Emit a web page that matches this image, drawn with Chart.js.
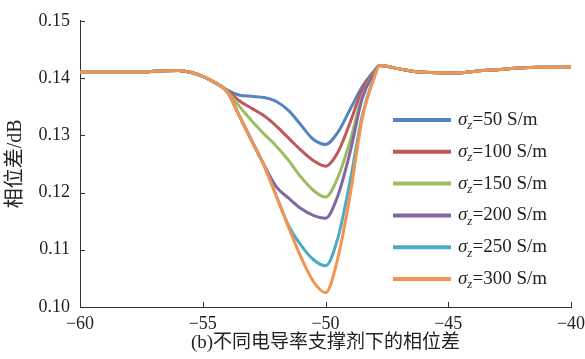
<!DOCTYPE html>
<html>
<head>
<meta charset="utf-8">
<script src="https://cdn.jsdelivr.net/npm/chart.js@4.4.1/dist/chart.umd.min.js"></script>
<style>
  html, body { margin: 0; padding: 0; background: #fff; }
  #wrap { width: 585px; height: 359px; }
</style>
</head>
<body>
<div id="wrap"><canvas id="phaseChart" width="585" height="359"></canvas></div>
<script>
// offset positions (x axis) shared by every curve
const offsets = [-60, -58, -57.5, -57, -56, -55.5, -55, -54.5, -54, -53.5, -53, -52.5, -52, -51.5, -51, -50.5, -50, -49.5, -49, -48.5, -48, -47.8, -47, -46, -44.6, -43.6, -42.6, -41.3, -40];

// proppant conductivity, S/m
const conductivities = [50, 100, 150, 200, 250, 300];

// phase difference for each conductivity
const phase50  = [0.1410, 0.1410, 0.1410, 0.1412, 0.1413, 0.1410, 0.1403, 0.1392, 0.1379, 0.1370, 0.1368, 0.1366, 0.1359, 0.1343, 0.1318, 0.1293, 0.1284, 0.1305, 0.1345, 0.1385, 0.1413, 0.1422, 0.1416, 0.1410, 0.1409, 0.1413, 0.1416, 0.1419, 0.1419];
const phase100 = [0.1410, 0.1410, 0.1410, 0.1412, 0.1413, 0.1410, 0.1403, 0.1392, 0.1378, 0.1360, 0.1347, 0.1334, 0.1316, 0.1295, 0.1274, 0.1256, 0.1246, 0.1270, 0.1322, 0.1380, 0.1413, 0.1422, 0.1416, 0.1410, 0.1409, 0.1413, 0.1416, 0.1419, 0.1419];
const phase150 = [0.1410, 0.1410, 0.1410, 0.1412, 0.1413, 0.1410, 0.1403, 0.1392, 0.1377, 0.1350, 0.1325, 0.1302, 0.1281, 0.1256, 0.1227, 0.1204, 0.1192, 0.1226, 0.1290, 0.1368, 0.1412, 0.1422, 0.1416, 0.1410, 0.1409, 0.1413, 0.1416, 0.1419, 0.1419];
const phase200 = [0.1410, 0.1410, 0.1410, 0.1412, 0.1413, 0.1410, 0.1403, 0.1392, 0.1376, 0.1333, 0.1290, 0.1248, 0.1210, 0.1190, 0.1172, 0.1160, 0.1155, 0.1194, 0.1270, 0.1365, 0.1410, 0.1422, 0.1416, 0.1410, 0.1409, 0.1413, 0.1416, 0.1419, 0.1419];
const phase250 = [0.1410, 0.1410, 0.1410, 0.1412, 0.1413, 0.1410, 0.1403, 0.1392, 0.1376, 0.1333, 0.1290, 0.1247, 0.1194, 0.1142, 0.1108, 0.1083, 0.1072, 0.1120, 0.1220, 0.1335, 0.1405, 0.1422, 0.1416, 0.1410, 0.1409, 0.1413, 0.1416, 0.1419, 0.1419];
const phase300 = [0.1410, 0.1410, 0.1410, 0.1412, 0.1413, 0.1410, 0.1403, 0.1392, 0.1376, 0.1333, 0.1290, 0.1247, 0.1193, 0.1139, 0.1087, 0.1045, 0.1025, 0.1085, 0.1195, 0.1330, 0.1402, 0.1422, 0.1416, 0.1410, 0.1409, 0.1413, 0.1416, 0.1419, 0.1419];

const series = [phase50, phase100, phase150, phase200, phase250, phase300];
const colors = ['#5584bf', '#c0575a', '#9dbd62', '#8167a4', '#4eabc4', '#f39450'];

const serif = '"Liberation Serif", "DejaVu Serif", serif';
const cjk = '"Liberation Serif", "Noto Sans CJK SC", serif';

function minusSign(v) {
    return v < 0 ? '\u2212' + Math.abs(v) : String(v);
}

// small tick marks pointing into the plot area
const innerTicks = {
    id: 'innerTicks',
    afterDraw(chart) {
        const ctx = chart.ctx;
        const xs = chart.scales.x, ys = chart.scales.y;
        ctx.save();
        ctx.strokeStyle = '#333';
        ctx.lineWidth = 1;
        ctx.beginPath();
        ys.ticks.forEach(t => {
            const py = Math.round(ys.getPixelForValue(t.value)) + 0.5;
            ctx.moveTo(xs.left, py);
            ctx.lineTo(xs.left + 5, py);
        });
        xs.ticks.forEach(t => {
            const px = Math.round(xs.getPixelForValue(t.value)) + 0.5;
            ctx.moveTo(px, ys.bottom);
            ctx.lineTo(px, ys.bottom - 5);
        });
        ctx.stroke();
        ctx.restore();
    }
};

// legend with italic sigma and subscript z
const sigmaLegend = {
    id: 'sigmaLegend',
    afterDraw(chart) {
        const ctx = chart.ctx;
        const x0 = 393, x1 = 451, top = 120, gap = 31.8;
        ctx.save();
        chart.data.datasets.forEach((ds, i) => {
            const y = top + i * gap;
            ctx.strokeStyle = ds.borderColor;
            ctx.lineWidth = 4;
            ctx.beginPath();
            ctx.moveTo(x0, y);
            ctx.lineTo(x1, y);
            ctx.stroke();

            ctx.fillStyle = '#222';
            ctx.textBaseline = 'middle';
            ctx.textAlign = 'left';
            let tx = x1 + 7;
            ctx.font = 'italic 19px ' + serif;
            ctx.fillText('\u03c3', tx, y);
            tx += ctx.measureText('\u03c3').width;
            ctx.font = 'italic 13px ' + serif;
            ctx.fillText('z', tx, y + 6);
            tx += ctx.measureText('z').width;
            ctx.font = '19px ' + serif;
            ctx.fillText('=' + conductivities[i] + ' S/m', tx, y);
        });
        ctx.restore();
    }
};

const datasets = series.map((vals, i) => ({
    label: '\u03c3z=' + conductivities[i] + ' S/m',
    data: offsets.map((x, k) => ({ x: x, y: vals[k] })),
    borderColor: colors[i],
    borderWidth: 3,
    pointRadius: 0,
    cubicInterpolationMode: 'monotone',
    fill: false,
    // later curves sit on top
    order: series.length - i
}));

new Chart(document.getElementById('phaseChart'), {
    type: 'line',
    data: { datasets: datasets },
    options: {
        responsive: false,
        animation: false,
        layout: { padding: { top: 13, right: 14, left: 4, bottom: 5 } },
        plugins: {
            legend: { display: false },
            tooltip: { enabled: false }
        },
        scales: {
            x: {
                type: 'linear',
                min: -60,
                max: -40,
                afterFit: s => { s.height = 47; s.paddingRight = 2; },
                grid: { display: false, drawTicks: false },
                border: { display: true, color: '#333', width: 1 },
                ticks: {
                    stepSize: 5,
                    padding: 6,
                    color: '#222',
                    font: { family: serif, size: 18 },
                    callback: v => minusSign(v)
                },
                title: {
                    display: true,
                    text: '(b)不同电导率支撑剂下的相位差',
                    color: '#222',
                    font: { family: cjk, size: 19 },
                    padding: { top: 0, bottom: 0 }
                }
            },
            y: {
                min: 0.10,
                max: 0.15,
                afterFit: s => { s.width = 76; },
                grid: { display: false, drawTicks: false },
                border: { display: true, color: '#333', width: 1 },
                ticks: {
                    stepSize: 0.01,
                    padding: 10,
                    color: '#222',
                    font: { family: serif, size: 18 },
                    callback: v => v.toFixed(2)
                },
                title: {
                    display: true,
                    text: '相位差/dB',
                    color: '#222',
                    font: { family: cjk, size: 20 },
                    padding: { top: 0, bottom: 2 }
                }
            }
        }
    },
    plugins: [innerTicks, sigmaLegend]
});
</script>
</body>
</html>
